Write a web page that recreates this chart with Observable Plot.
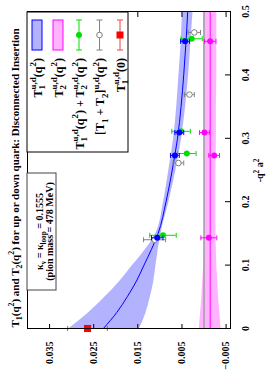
<!DOCTYPE html>
<html>
<head>
<meta charset="utf-8">
<script src="https://cdn.jsdelivr.net/npm/d3@7"></script>
<script src="https://cdn.jsdelivr.net/npm/@observablehq/plot@0.6"></script>
<style>
  html, body { margin: 0; padding: 0; background: white; overflow: hidden; }
  #wrap { position: absolute; left: 0; top: 0; width: 392px; height: 274px;
          transform-origin: 0 0; transform: translate(0px, 392px) rotate(-90deg); }
  svg text { white-space: pre; }
</style>
</head>
<body>
<div id="wrap"></div>
<script>
// ---------- data ----------
const xTicks = [0, 0.1, 0.2, 0.3, 0.4, 0.5];
const yTicks = [-0.005, 0.005, 0.015, 0.025, 0.035];

// fitted bands
const bandQ2   = [0, 0.025, 0.05, 0.075, 0.1, 0.125, 0.15, 0.2, 0.25, 0.3, 0.35, 0.4, 0.45, 0.5];
const t1Fit    = [0.0228, 0.0198, 0.0174, 0.0153, 0.0136, 0.0119, 0.0104, 0.0086, 0.0072, 0.0060, 0.0052, 0.0046, 0.0041, 0.0037];
const t1Half   = [0.0081, 0.0066, 0.0052, 0.0039, 0.0027, 0.0015, 0.0006, 0.0006, 0.0008, 0.0009, 0.0010, 0.0011, 0.0011, 0.0012];
const t2Fit    = [-0.0014, -0.0014, -0.0014, -0.0014, -0.0014, -0.0014, -0.0014, -0.0014, -0.0014, -0.0014, -0.0014, -0.0014, -0.0014, -0.0014];
const t2Half   = [0.0025, 0.0022, 0.0019, 0.0017, 0.0015, 0.0014, 0.0013, 0.0013, 0.0013, 0.0014, 0.0014, 0.0015, 0.0015, 0.0015];

// T1 points (blue)
const t1Q   = [0.143, 0.273, 0.309, 0.453];
const t1Val = [0.0106, 0.0066, 0.0056, 0.0043];
const t1Err = [0.0013, 0.0010, 0.0010, 0.0010];
// T2 points (magenta)
const t2Q   = [0.143, 0.273, 0.309, 0.453];
const t2Val = [-0.0011, -0.0023, -0.0001, -0.0014];
const t2Err = [0.0018, 0.0012, 0.0011, 0.0013];
// T1 + T2 (green)
const sumQ   = [0.147, 0.276, 0.311, 0.457];
const sumVal = [0.0093, 0.0039, 0.0052, 0.0028];
const sumErr = [0.0030, 0.0021, 0.0021, 0.0024];
// [T1 + T2] (gray open)
const combQ   = [0.140, 0.261, 0.369, 0.467];
const combVal = [0.0112, 0.0058, 0.0033, 0.0022];
const combErr = [0.0025, 0.0012, 0.0011, 0.0014];
// T1(0) (red)
const t10Q   = [0];
const t10Val = [0.0264];
const t10Err = [0.0045];

// ---------- helpers ----------
const FONT = '"Liberation Serif", "Times New Roman", serif';
const BLUE = "#0000ff", MAG = "#ff00ff", GREEN = "#00e000", GRAY = "#808080", RED = "#ff0000";

const band = (c, h) => bandQ2.map((q, i) => ({q, c: c[i], lo: c[i] - h[i], hi: c[i] + h[i]}));
const pts = (Q, V, E) => Q.map((q, i) => ({q, v: V[i], lo: V[i] - E[i], hi: V[i] + E[i]}));

const capSymbol = {draw(ctx) { ctx.moveTo(-2.5, 0); ctx.lineTo(2.5, 0); }};
function errorMarks(data, color, w = 1) {
  return [
    Plot.ruleX(data, {x: "q", y1: "lo", y2: "hi", stroke: color, strokeWidth: w}),
    Plot.dot(data, {x: "q", y: "lo", symbol: capSymbol, stroke: color, strokeWidth: w, fill: "none"}),
    Plot.dot(data, {x: "q", y: "hi", symbol: capSymbol, stroke: color, strokeWidth: w, fill: "none"})
  ];
}

const b1 = band(t1Fit, t1Half), b2 = band(t2Fit, t2Half);
const p1 = pts(t1Q, t1Val, t1Err), p2 = pts(t2Q, t2Val, t2Err);
const ps = pts(sumQ, sumVal, sumErr), pc = pts(combQ, combVal, combErr);
const p0 = pts(t10Q, t10Val, t10Err);

const W = 392, H = 274, ML = 63, MR = 12, MT = 27, MB = 44;
const FW = W - ML - MR, FH = H - MT - MB;

const plot = Plot.plot({
  width: W, height: H,
  marginLeft: ML, marginRight: MR, marginTop: MT, marginBottom: MB,
  x: {domain: [0, 0.5]},
  y: {domain: [-0.006, 0.04]},
  style: {fontFamily: FONT, fontWeight: "bold", fontSize: "10px", background: "white", color: "black", overflow: "visible"},
  marks: [
    Plot.areaY(b1, {x: "q", y1: "lo", y2: "hi", fill: BLUE, fillOpacity: 0.3, curve: "monotone-x"}),
    Plot.line(b1, {x: "q", y: "c", stroke: BLUE, strokeWidth: 1, curve: "monotone-x"}),
    Plot.areaY(b2, {x: "q", y1: "lo", y2: "hi", fill: MAG, fillOpacity: 0.3, curve: "monotone-x"}),
    Plot.line(b2, {x: "q", y: "c", stroke: MAG, strokeWidth: 1, curve: "monotone-x"}),
    Plot.ruleY([0], {stroke: "#a0a0a0", strokeWidth: 1.5}),
    ...errorMarks(pc, GRAY),
    Plot.dot(pc, {x: "q", y: "v", r: 2.8, stroke: GRAY, fill: "white", strokeWidth: 1}),
    ...errorMarks(ps, GREEN),
    Plot.dot(ps, {x: "q", y: "v", r: 3, fill: GREEN}),
    ...errorMarks(p1, BLUE),
    Plot.dot(p1, {x: "q", y: "v", r: 3, fill: BLUE}),
    ...errorMarks(p2, MAG),
    Plot.dot(p2, {x: "q", y: "v", r: 3, fill: MAG}),
    ...errorMarks(p0, "#f04040"),
    Plot.dot(p0, {x: "q", y: "v", r: 4, symbol: "square", fill: RED}),
    // inward tick marks
    Plot.tickY(yTicks, {y: d => d, stroke: "black", insetRight: FW - 5}),
    Plot.tickY(yTicks, {y: d => d, stroke: "black", insetLeft: FW - 5}),
    Plot.tickX(xTicks, {x: d => d, stroke: "black", insetTop: FH - 5}),
    Plot.tickX(xTicks, {x: d => d, stroke: "black", insetBottom: FH - 5}),
    Plot.frame({stroke: "black"}),
    Plot.axisY(yTicks, {tickSize: 0, tickPadding: 13, tickFormat: d3.format(".3f"), label: null}),
    Plot.axisX(xTicks, {tickSize: 0, tickPadding: 11, tickFormat: d => String(d), label: null})
  ]
});

document.getElementById("wrap").appendChild(plot);

// ---------- rich text (sub/superscripts) ----------
const mctx = document.createElement("canvas").getContext("2d");
function tw(str, size) { mctx.font = `bold ${size}px ${FONT}`; return mctx.measureText(str).width; }
function parseRich(s) {
  const out = []; let i = 0, buf = "";
  const flush = () => { if (buf) { out.push({t: buf, k: "n"}); buf = ""; } };
  while (i < s.length) {
    const c = s[i];
    if ((c === "_" || c === "^") && s[i + 1] === "{") {
      flush();
      const j = s.indexOf("}", i);
      out.push({t: s.slice(i + 2, j), k: c === "_" ? "sub" : "sup"});
      i = j + 1;
    } else { buf += c; i++; }
  }
  flush();
  return out;
}
function rich(parent, str, x, y, size, anchor = "start", ratio = 0.72) {
  const text = parent.append("text").attr("x", x).attr("y", y).attr("text-anchor", anchor)
    .attr("font-family", FONT).attr("font-weight", "bold").attr("font-size", size).attr("fill", "black");
  const parts = parseRich(str);
  const small = size * ratio, subOff = size * 0.3, supOff = size * 0.42;
  let shift = 0, pending = 0;
  parts.forEach((part, p) => {
    const target = part.k === "sub" ? subOff : part.k === "sup" ? -supOff : 0;
    const ts = text.append("tspan").attr("dy", target - shift).text(part.t);
    shift = target;
    if (part.k !== "n") ts.attr("font-size", small);
    let dx = pending; pending = 0;
    if (part.k === "sup" && p > 0 && parts[p - 1].k === "sub") {
      const wSub = tw(parts[p - 1].t, small), wSup = tw(part.t, small);
      dx -= wSub;
      if (wSub > wSup) pending = wSub - wSup;
    }
    if (dx) ts.attr("dx", dx);
  });
  return text;
}

const svg = d3.select(plot);
const g = svg.append("g");

// title
rich(g, "T_{1}(q^{2}) and T_{2}(q^{2}) for up or down quark: Disconnected Insertion", 214, 19, 11, "middle");
// x label
rich(g, "-q^{2} a^{2}", ML + FW / 2, 263, 10, "middle");

// kappa box
g.append("rect").attr("x", 102).attr("y", MT).attr("width", 117).attr("height", 29)
  .attr("fill", "white").attr("stroke", "#444").attr("stroke-width", 1);
rich(g, "κ_{v} = κ_{loop} = 0.1555", 160.5, 43, 10, "middle");
rich(g, "(pion mass = 478 MeV)", 160.5, 53, 10, "middle");

// legend
const LX1 = 240, LX2 = W - MR, LY2 = 128;
g.append("rect").attr("x", LX1).attr("y", MT).attr("width", LX2 - LX1).attr("height", LY2 - MT)
  .attr("fill", "white").attr("stroke", "black").attr("stroke-width", 1);
const rows = [37, 58, 79, 99.5, 120];
const sx1 = 342, sx2 = 372, sxm = (sx1 + sx2) / 2, tx = 334;
const labels = [
  "T_{1}^{u,d}(q^{2})",
  "T_{2}^{u,d}(q^{2})",
  "T_{1}^{u,d}(q^{2}) + T_{2}^{u,d}(q^{2})",
  "[T_{1} + T_{2}]^{u,d}(q^{2})",
  "T_{1}^{u,d}(0)"
];
labels.forEach((s, i) => rich(g, s, tx, rows[i] + 4.5, 12, "end", 0.75));
// band samples
[[BLUE, 0], [MAG, 1]].forEach(([c, i]) => {
  g.append("rect").attr("x", sx1).attr("y", rows[i] - 5).attr("width", sx2 - sx1).attr("height", 10)
    .attr("fill", c).attr("fill-opacity", 0.3).attr("stroke", c).attr("stroke-width", 1);
});
// errorbar samples
function ebSample(y, color) {
  g.append("line").attr("x1", sx1).attr("x2", sx2).attr("y1", y).attr("y2", y).attr("stroke", color);
  g.append("line").attr("x1", sx1).attr("x2", sx1).attr("y1", y - 3).attr("y2", y + 3).attr("stroke", color);
  g.append("line").attr("x1", sx2).attr("x2", sx2).attr("y1", y - 3).attr("y2", y + 3).attr("stroke", color);
}
ebSample(rows[2], GREEN);
g.append("circle").attr("cx", sxm).attr("cy", rows[2]).attr("r", 3).attr("fill", GREEN);
ebSample(rows[3], GRAY);
g.append("circle").attr("cx", sxm).attr("cy", rows[3]).attr("r", 2.8).attr("fill", "white").attr("stroke", GRAY);
ebSample(rows[4], "#f04040");
g.append("rect").attr("x", sxm - 3.5).attr("y", rows[4] - 3.5).attr("width", 7).attr("height", 7).attr("fill", RED);
</script>
</body>
</html>
